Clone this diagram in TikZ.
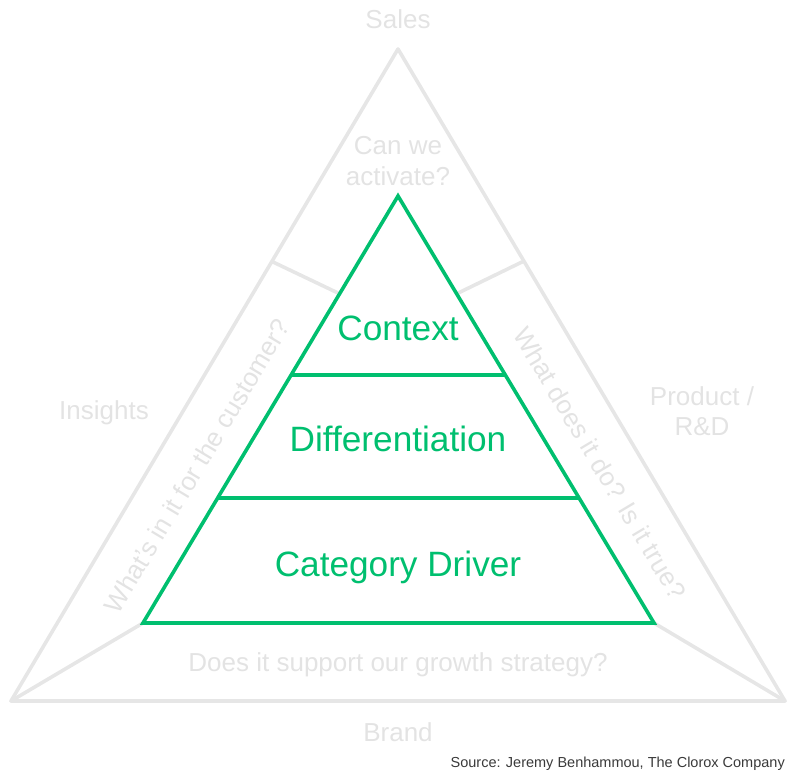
\documentclass[tikz,border=0pt]{standalone}
\usepackage{fontspec}
\setmainfont{Liberation Sans}
\usetikzlibrary{calc}
\definecolor{lgray}{HTML}{E6E6E6}
\definecolor{tgray}{HTML}{E3E3E3}
\definecolor{cgreen}{HTML}{00BF6F}
\definecolor{srcgray}{HTML}{3A3A3A}
\begin{document}
\begin{tikzpicture}[x=1pt,y=-1pt,
  outerline/.style={draw=lgray,line width=3.6pt,line join=round,line cap=round},
  greenline/.style={draw=cgreen,line width=3.6pt,line join=miter},
  glabel/.style={text=tgray,font=\fontsize{26}{30.5}\selectfont,align=center,inner sep=0pt},
  layer/.style={text=cgreen,font=\fontsize{35.2}{40}\selectfont,inner sep=0pt}]
\useasboundingbox (0,0) rectangle (798,775);
% outer triangle
\coordinate (OA) at (398,49);
\coordinate (OL) at (11,701);
\coordinate (OR) at (785,701);
% inner triangle
\coordinate (IA) at (398,196);
\coordinate (IL) at (143,623);
\coordinate (IR) at (654,623);
% divider points
\coordinate (DLo) at (273,262);
\coordinate (DLi) at ($(IA)!0.229!(IL)$);
\coordinate (DRo) at (522,262);
\coordinate (DRi) at ($(IA)!0.229!(IR)$);
\coordinate (H1L) at ($(IA)!0.419!(IL)$);
\coordinate (H1R) at ($(IA)!0.419!(IR)$);
\coordinate (H2L) at ($(IA)!0.7075!(IL)$);
\coordinate (H2R) at ($(IA)!0.7075!(IR)$);

\path[outerline] (OA) -- (OL) -- (OR) -- cycle;
\path[outerline] (DLo) -- (DLi);
\path[outerline] (DRo) -- (DRi);
\path[outerline] (OL) -- (IL);
\path[outerline] (OR) -- (IR);

\path[greenline] (IA) -- (IL) -- (IR) -- cycle;
\path[greenline] (H1L) -- (H1R);
\path[greenline] (H2L) -- (H2R);

% layer labels
\node[layer] (ctx) at (398,328) {Context};
\node[layer] (diff) at (398,439) {Differentiation};
\node[layer] (cat) at (398,567) {Category Driver};

% gray labels
\node[glabel] (sales) at (398,19) {Sales};
\node[glabel] (act) at (398,161) {Can we\\activate?};
\node[glabel] (ins) at (104,413) {Insights};
\node[glabel] (prod) at (702,411) {Product /\\R\&D};
\node[glabel] (brand) at (398,732) {Brand};
\node[glabel] (grow) at (398,665) {Does it support our growth strategy?};
\node[glabel,rotate=59.1] (cust) at (197,466) {What’s in it for the customer?};
\node[glabel,rotate=-59.1] (true) at (600,463) {What does it do? Is it true?};

\node[text=srcgray,font=\fontsize{14.5}{16}\selectfont,anchor=east,inner sep=0pt] (src) at (785,764) {Source: Jeremy Benhammou, The Clorox Company};
\end{tikzpicture}
\end{document}
